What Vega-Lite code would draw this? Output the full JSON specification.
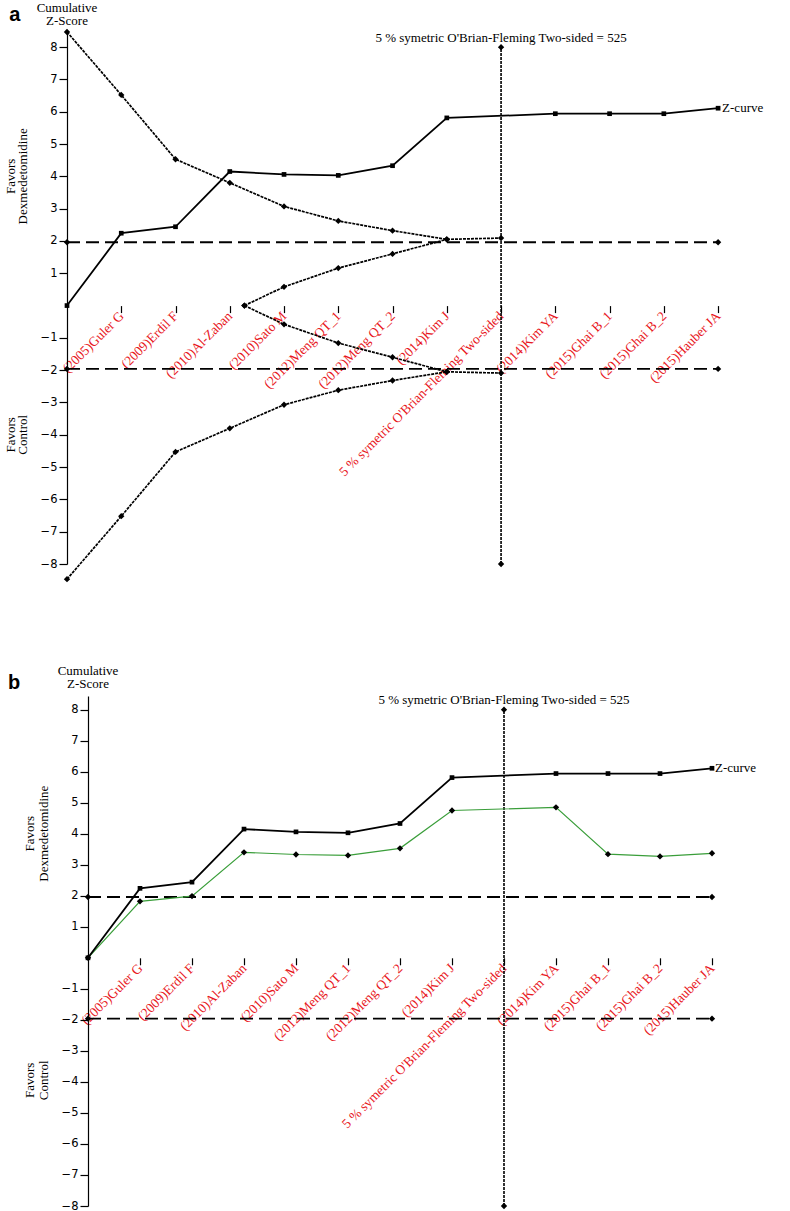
{
  "$schema": "https://vega.github.io/schema/vega-lite/v6.json",
  "background": "white",
  "padding": {"left": 5, "top": 1, "right": 0, "bottom": 0},
  "bounds": "flush",
  "spacing": 132,
  "config": {"view": {"stroke": null}, "axis": {"grid": false}},
  "datasets": {
    "a_lines": [
      {"s": "z", "x": 0, "z": 0}, {"s": "z", "x": 1, "z": 2.24}, {"s": "z", "x": 2, "z": 2.44}, {"s": "z", "x": 3, "z": 4.15},
      {"s": "z", "x": 4, "z": 4.06}, {"s": "z", "x": 5, "z": 4.03}, {"s": "z", "x": 6, "z": 4.33}, {"s": "z", "x": 7, "z": 5.81},
      {"s": "z", "x": 9, "z": 5.94}, {"s": "z", "x": 10, "z": 5.94}, {"s": "z", "x": 11, "z": 5.94}, {"s": "z", "x": 12, "z": 6.11},
      {"s": "up", "x": 0, "z": 8.47}, {"s": "up", "x": 1, "z": 6.52}, {"s": "up", "x": 2, "z": 4.53}, {"s": "up", "x": 3, "z": 3.8},
      {"s": "up", "x": 4, "z": 3.07}, {"s": "up", "x": 5, "z": 2.62}, {"s": "up", "x": 6, "z": 2.32}, {"s": "up", "x": 7, "z": 2.05}, {"s": "up", "x": 8, "z": 2.09},
      {"s": "lo", "x": 0, "z": -8.47}, {"s": "lo", "x": 1, "z": -6.52}, {"s": "lo", "x": 2, "z": -4.53}, {"s": "lo", "x": 3, "z": -3.8},
      {"s": "lo", "x": 4, "z": -3.07}, {"s": "lo", "x": 5, "z": -2.62}, {"s": "lo", "x": 6, "z": -2.32}, {"s": "lo", "x": 7, "z": -2.05}, {"s": "lo", "x": 8, "z": -2.09},
      {"s": "iu", "x": 3.27, "z": 0}, {"s": "iu", "x": 4, "z": 0.58}, {"s": "iu", "x": 5, "z": 1.16}, {"s": "iu", "x": 6, "z": 1.6}, {"s": "iu", "x": 7, "z": 2.05},
      {"s": "il", "x": 3.27, "z": 0}, {"s": "il", "x": 4, "z": -0.58}, {"s": "il", "x": 5, "z": -1.16}, {"s": "il", "x": 6, "z": -1.6}, {"s": "il", "x": 7, "z": -2.05},
      {"s": "su", "x": 0, "z": 1.96}, {"s": "su", "x": 12, "z": 1.96},
      {"s": "sl", "x": 0, "z": -1.96}, {"s": "sl", "x": 12, "z": -1.96},
      {"s": "ris", "x": 8, "z": -8}, {"s": "ris", "x": 8, "z": 8}
    ],
    "a_text": [
      {"k": "title", "t": "5 % symetric O'Brian-Fleming Two-sided = 525", "x": 8, "z": 8.27},
      {"k": "zlab", "t": "Z-curve", "x": 12, "z": 6.11},
      {"k": "ytitle", "t": "Cumulative", "x": 0, "z": 9.22},
      {"k": "ytitle", "t": "Z-Score", "x": 0, "z": 8.81},
      {"k": "side", "t": "Favors", "x": -1.03, "z": 4},
      {"k": "side", "t": "Dexmedetomidine", "x": -0.81, "z": 4},
      {"k": "side", "t": "Favors", "x": -1.03, "z": -4},
      {"k": "side", "t": "Control", "x": -0.81, "z": -4},
      {"k": "panel", "t": "a", "x": -0.96, "z": 8.98}
    ],
    "b_lines": [
      {"s": "z", "x": 0, "z": 0}, {"s": "z", "x": 1, "z": 2.24}, {"s": "z", "x": 2, "z": 2.44}, {"s": "z", "x": 3, "z": 4.15},
      {"s": "z", "x": 4, "z": 4.06}, {"s": "z", "x": 5, "z": 4.03}, {"s": "z", "x": 6, "z": 4.33}, {"s": "z", "x": 7, "z": 5.81},
      {"s": "z", "x": 9, "z": 5.94}, {"s": "z", "x": 10, "z": 5.94}, {"s": "z", "x": 11, "z": 5.94}, {"s": "z", "x": 12, "z": 6.11},
      {"s": "g", "x": 0, "z": 0}, {"s": "g", "x": 1, "z": 1.82}, {"s": "g", "x": 2, "z": 1.99}, {"s": "g", "x": 3, "z": 3.4},
      {"s": "g", "x": 4, "z": 3.33}, {"s": "g", "x": 5, "z": 3.3}, {"s": "g", "x": 6, "z": 3.53}, {"s": "g", "x": 7, "z": 4.75},
      {"s": "g", "x": 9, "z": 4.85}, {"s": "g", "x": 10, "z": 3.34}, {"s": "g", "x": 11, "z": 3.27}, {"s": "g", "x": 12, "z": 3.37},
      {"s": "su", "x": 0, "z": 1.96}, {"s": "su", "x": 12, "z": 1.96},
      {"s": "sl", "x": 0, "z": -1.96}, {"s": "sl", "x": 12, "z": -1.96},
      {"s": "ris", "x": 8, "z": -8}, {"s": "ris", "x": 8, "z": 8}
    ],
    "b_text": [
      {"k": "title", "t": "5 % symetric O'Brian-Fleming Two-sided = 525", "x": 8, "z": 8.3},
      {"k": "zlab", "t": "Z-curve", "x": 12, "z": 6.11},
      {"k": "ytitle", "t": "Cumulative", "x": 0, "z": 9.26},
      {"k": "ytitle", "t": "Z-Score", "x": 0, "z": 8.83},
      {"k": "side", "t": "Favors", "x": -1.115, "z": 4},
      {"k": "side", "t": "Dexmedetomidine", "x": -0.846, "z": 4},
      {"k": "side", "t": "Favors", "x": -1.115, "z": -3.95},
      {"k": "side", "t": "Control", "x": -0.846, "z": -3.95},
      {"k": "panel", "t": "b", "x": -1.42, "z": 8.85}
    ]
  },
  "vconcat": [
    {
      "width": 720,
      "height": 533,
      "data": {"name": "a_lines"},
      "encoding": {
        "x": {"field": "x", "type": "quantitative",
          "scale": {"domain": [0, 13.27], "nice": false, "zero": false},
          "axis": {"title": null, "domain": false, "values": [1,2,3,4,5,6,7,8,9,10,11,12],
            "tickSize": 7, "tickColor": "black", "tickWidth": 1.2, "offset": -258.4,
            "labelExpr": "['', '(2005)Guler G', '(2009)Erdil F', '(2010)Al-Zaban', '(2010)Sato M', '(2012)Meng QT_1', '(2012)Meng QT_2', '(2014)Kim J', \"5 % symetric O'Brian-Fleming Two-sided\", '(2014)Kim YA', '(2015)Ghai B_1', '(2015)Ghai B_2', '(2015)Hauber JA'][datum.value]",
            "labelAngle": -45, "labelAlign": "right", "labelBaseline": "middle", "labelColor": "#e8161c",
            "labelFont": "Liberation Serif", "labelFontSize": 13.5, "labelPadding": 1, "labelLimit": 0,
            "labelOverlap": false, "labelBound": false, "labelFlush": false}},
        "y": {"field": "z", "type": "quantitative",
          "scale": {"domain": [-8, 8.5], "nice": false, "zero": false},
          "axis": {"title": null, "values": [-8,-7,-6,-5,-4,-3,-2,-1,1,2,3,4,5,6,7,8],
            "domainColor": "black", "domainWidth": 1.2, "tickColor": "black", "tickWidth": 1.2, "tickSize": 8,
            "labelFont": "DejaVu Sans", "labelFontSize": 11.5, "labelColor": "black", "labelPadding": 2, "labelFlush": false}}
      },
      "layer": [
        {"data": {"values": [{}]}, "mark": {"type": "rule", "color": "black", "strokeWidth": 1.2},
         "encoding": {"x": {"datum": 0}, "x2": {"datum": 13.27}, "y": {"datum": 0}}},
        {"data": {"values": [{}]}, "mark": {"type": "point", "shape": "M-1,-1L0,0L-1,1", "filled": false, "stroke": "black", "strokeWidth": 1.2, "size": 160, "opacity": 1},
         "encoding": {"x": {"datum": 13.27}, "y": {"datum": 0}}},
        {"data": {"values": [{}]}, "mark": {"type": "point", "shape": "M-1,1L0,0L1,1", "filled": false, "stroke": "black", "strokeWidth": 1.2, "size": 160, "opacity": 1},
         "encoding": {"x": {"datum": 0}, "y": {"datum": 8.5}}},
        {"transform": [{"filter": "datum.s === 'su' || datum.s === 'sl'"}],
         "mark": {"type": "line", "color": "black", "strokeWidth": 1.8, "strokeDash": [13, 6]},
         "encoding": {"detail": {"field": "s"}}},
        {"transform": [{"filter": "datum.s === 'up' || datum.s === 'lo' || datum.s === 'iu' || datum.s === 'il'"}],
         "mark": {"type": "line", "color": "black", "strokeWidth": 1.7, "strokeDash": [3, 1]},
         "encoding": {"detail": {"field": "s"}}},
        {"transform": [{"filter": "datum.s === 'ris'"}],
         "mark": {"type": "line", "color": "black", "strokeWidth": 1.6, "strokeDash": [3, 1]},
         "encoding": {"order": {"field": "z", "type": "quantitative"}}},
        {"transform": [{"filter": "datum.s !== 'z'"}],
         "mark": {"type": "point", "shape": "diamond", "filled": true, "color": "black", "size": 40, "opacity": 1}},
        {"transform": [{"filter": "datum.s === 'z'"}],
         "mark": {"type": "line", "color": "black", "strokeWidth": 1.8}},
        {"transform": [{"filter": "datum.s === 'z'"}],
         "mark": {"type": "point", "shape": "square", "filled": true, "color": "black", "size": 22, "opacity": 1}},
        {"data": {"name": "a_text"}, "transform": [{"filter": "datum.k === 'title' || datum.k === 'ytitle'"}],
         "mark": {"type": "text", "font": "Liberation Serif", "fontSize": 13, "color": "black", "align": "center", "baseline": "middle"},
         "encoding": {"text": {"field": "t"}}},
        {"data": {"name": "a_text"}, "transform": [{"filter": "datum.k === 'zlab'"}],
         "mark": {"type": "text", "font": "Liberation Serif", "fontSize": 13, "color": "black", "align": "left", "baseline": "middle", "dx": 4},
         "encoding": {"text": {"field": "t"}}},
        {"data": {"name": "a_text"}, "transform": [{"filter": "datum.k === 'side'"}],
         "mark": {"type": "text", "font": "Liberation Serif", "fontSize": 13, "color": "black", "align": "center", "baseline": "middle", "angle": 270},
         "encoding": {"text": {"field": "t"}}},
        {"data": {"name": "a_text"}, "transform": [{"filter": "datum.k === 'panel'"}],
         "mark": {"type": "text", "font": "Liberation Sans", "fontSize": 20, "fontWeight": "bold", "color": "black", "align": "center", "baseline": "middle"},
         "encoding": {"text": {"field": "t"}}}
      ]
    },
    {
      "width": 720,
      "height": 510,
      "data": {"name": "b_lines"},
      "encoding": {
        "x": {"field": "x", "type": "quantitative",
          "scale": {"domain": [-0.4038, 13.4424], "nice": false, "zero": false},
          "axis": {"title": null, "domain": false, "values": [1,2,3,4,5,6,7,8,9,10,11,12],
            "tickSize": 7, "tickColor": "black", "tickWidth": 1.2, "offset": -248.2,
            "labelExpr": "['', '(2005)Guler G', '(2009)Erdil F', '(2010)Al-Zaban', '(2010)Sato M', '(2012)Meng QT_1', '(2012)Meng QT_2', '(2014)Kim J', \"5 % symetric O'Brian-Fleming Two-sided\", '(2014)Kim YA', '(2015)Ghai B_1', '(2015)Ghai B_2', '(2015)Hauber JA'][datum.value]",
            "labelAngle": -45, "labelAlign": "right", "labelBaseline": "middle", "labelColor": "#e8161c",
            "labelFont": "Liberation Serif", "labelFontSize": 13.5, "labelPadding": 1, "labelLimit": 0,
            "labelOverlap": false, "labelBound": false, "labelFlush": false}},
        "y": {"field": "z", "type": "quantitative",
          "scale": {"domain": [-8, 8.44], "nice": false, "zero": false},
          "axis": {"title": null, "values": [-8,-7,-6,-5,-4,-3,-2,-1,1,2,3,4,5,6,7,8], "offset": -21,
            "domainColor": "black", "domainWidth": 1.2, "tickColor": "black", "tickWidth": 1.2, "tickSize": 8,
            "labelFont": "DejaVu Sans", "labelFontSize": 11.5, "labelColor": "black", "labelPadding": 2, "labelFlush": false}}
      },
      "layer": [
        {"data": {"values": [{}]}, "mark": {"type": "rule", "color": "black", "strokeWidth": 1.2},
         "encoding": {"x": {"datum": 0}, "x2": {"datum": 13.29}, "y": {"datum": 0}}},
        {"data": {"values": [{}]}, "mark": {"type": "point", "shape": "M-1,-1L0,0L-1,1", "filled": false, "stroke": "black", "strokeWidth": 1.2, "size": 160, "opacity": 1},
         "encoding": {"x": {"datum": 13.29}, "y": {"datum": 0}}},
        {"data": {"values": [{}]}, "mark": {"type": "point", "shape": "M-1,1L0,0L1,1", "filled": false, "stroke": "black", "strokeWidth": 1.2, "size": 160, "opacity": 1},
         "encoding": {"x": {"datum": 0}, "y": {"datum": 8.44}}},
        {"transform": [{"filter": "datum.s === 'su' || datum.s === 'sl'"}],
         "mark": {"type": "line", "color": "black", "strokeWidth": 1.8, "strokeDash": [13, 6]},
         "encoding": {"detail": {"field": "s"}}},
        {"transform": [{"filter": "datum.s === 'ris'"}],
         "mark": {"type": "line", "color": "black", "strokeWidth": 1.6, "strokeDash": [3, 1]},
         "encoding": {"order": {"field": "z", "type": "quantitative"}}},
        {"transform": [{"filter": "datum.s === 'g'"}],
         "mark": {"type": "line", "color": "#3a9e3a", "strokeWidth": 1.2}},
        {"transform": [{"filter": "datum.s !== 'z'"}],
         "mark": {"type": "point", "shape": "diamond", "filled": true, "color": "black", "size": 40, "opacity": 1}},
        {"transform": [{"filter": "datum.s === 'z'"}],
         "mark": {"type": "line", "color": "black", "strokeWidth": 1.8}},
        {"transform": [{"filter": "datum.s === 'z'"}],
         "mark": {"type": "point", "shape": "square", "filled": true, "color": "black", "size": 22, "opacity": 1}},
        {"data": {"name": "b_text"}, "transform": [{"filter": "datum.k === 'title' || datum.k === 'ytitle'"}],
         "mark": {"type": "text", "font": "Liberation Serif", "fontSize": 13, "color": "black", "align": "center", "baseline": "middle"},
         "encoding": {"text": {"field": "t"}}},
        {"data": {"name": "b_text"}, "transform": [{"filter": "datum.k === 'zlab'"}],
         "mark": {"type": "text", "font": "Liberation Serif", "fontSize": 13, "color": "black", "align": "left", "baseline": "middle", "dx": 3},
         "encoding": {"text": {"field": "t"}}},
        {"data": {"name": "b_text"}, "transform": [{"filter": "datum.k === 'side'"}],
         "mark": {"type": "text", "font": "Liberation Serif", "fontSize": 13, "color": "black", "align": "center", "baseline": "middle", "angle": 270},
         "encoding": {"text": {"field": "t"}}},
        {"data": {"name": "b_text"}, "transform": [{"filter": "datum.k === 'panel'"}],
         "mark": {"type": "text", "font": "Liberation Sans", "fontSize": 20, "fontWeight": "bold", "color": "black", "align": "center", "baseline": "middle"},
         "encoding": {"text": {"field": "t"}}}
      ]
    }
  ]
}
